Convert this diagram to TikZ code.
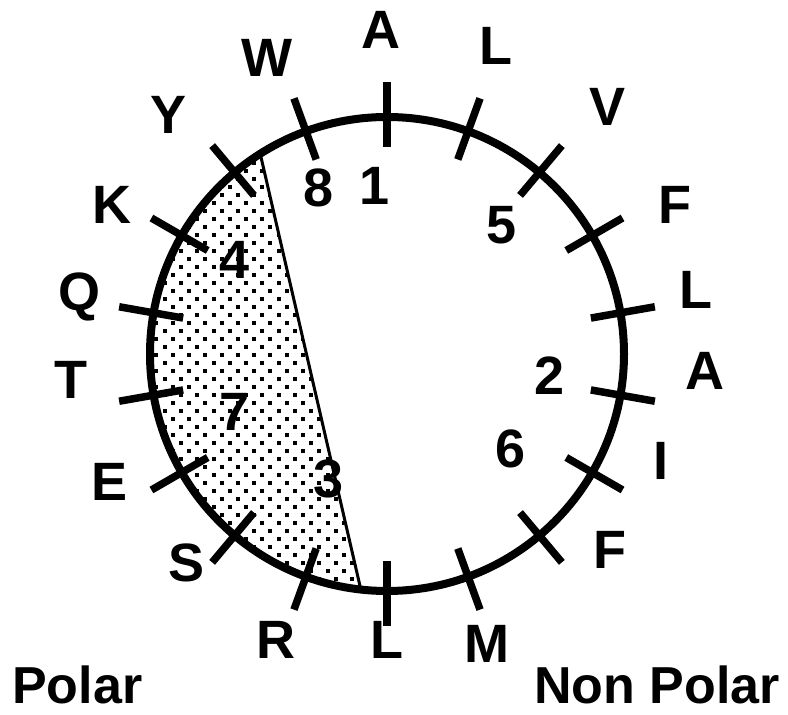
\documentclass[tikz,border=0pt]{standalone}
\usepackage{fontspec}
\setmainfont{Liberation Sans}
\begin{document}
\begin{tikzpicture}[x=1pt,y=1pt,
  res/.style={inner sep=0pt,font=\fontsize{54}{54}\selectfont\bfseries},
  side/.style={inner sep=0pt,font=\fontsize{52}{52}\selectfont\bfseries},
  tickmark/.style={line width=7.5pt}]
  \useasboundingbox (0,0) rectangle (788,715);
  \coordinate (c) at (387,361);
  % polar face
  \begin{scope}
    \clip (c) ++(122.6:237) arc[start angle=122.6,end angle=263.4,radius=237] -- cycle;
    \foreach \j [evaluate=\j as \dx using {8*mod(\j,2)}] in {0,...,70}
      \foreach \i in {0,...,16}
        \fill (130+16.3*\i+\dx,110+8*\j) rectangle ++(4,4);
  \end{scope}
  \path (c) ++(122.6:234) coordinate (p1) (c) ++(263.4:234) coordinate (p2);
  \draw[line width=3pt] (p1) -- (p2);
  \draw[line width=8pt] (c) circle[radius=237];
  \foreach \a in {90,70,...,-250}
    \draw[tickmark] (c) ++(\a:207) -- ++(\a:65);
  % residues
  \node[res] (a1) at (381,685) {A};
  \node[res] (l2) at (496,669) {L};
  \node[res] (v3) at (608,608) {V};
  \node[res] (f4) at (675,510) {F};
  \node[res] (l5) at (696,425) {L};
  \node[res] (a6) at (705,344) {A};
  \node[res] (i7) at (661,254) {I};
  \node[res] (f8) at (610,165) {F};
  \node[res] (m9) at (487,71) {M};
  \node[res] (l10) at (387,75) {L};
  \node[res] (r11) at (276,75) {R};
  \node[res] (s12) at (187,152) {S};
  \node[res] (e13) at (110,233) {E};
  \node[res] (t14) at (71,335) {T};
  \node[res] (q15) at (80,418) {Q};
  \node[res] (k16) at (112,510) {K};
  \node[res] (y17) at (169,600) {Y};
  \node[res] (w18) at (267,657) {W};
  % order
  \node[res] (n1) at (375,529) {1};
  \node[res] (n2) at (550,339) {2};
  \node[res] (n3) at (329,236) {3};
  \node[res] (n4) at (235,455) {4};
  \node[res] (n5) at (502,490) {5};
  \node[res] (n6) at (511,266) {6};
  \node[res] (n7) at (235,303) {7};
  \node[res] (n8) at (319,527) {8};
  \node[side,anchor=base west] (polar) at (12,11) {Polar};
  \node[side,anchor=base east] (nonpolar) at (780,11) {Non Polar};
\end{tikzpicture}
\end{document}
